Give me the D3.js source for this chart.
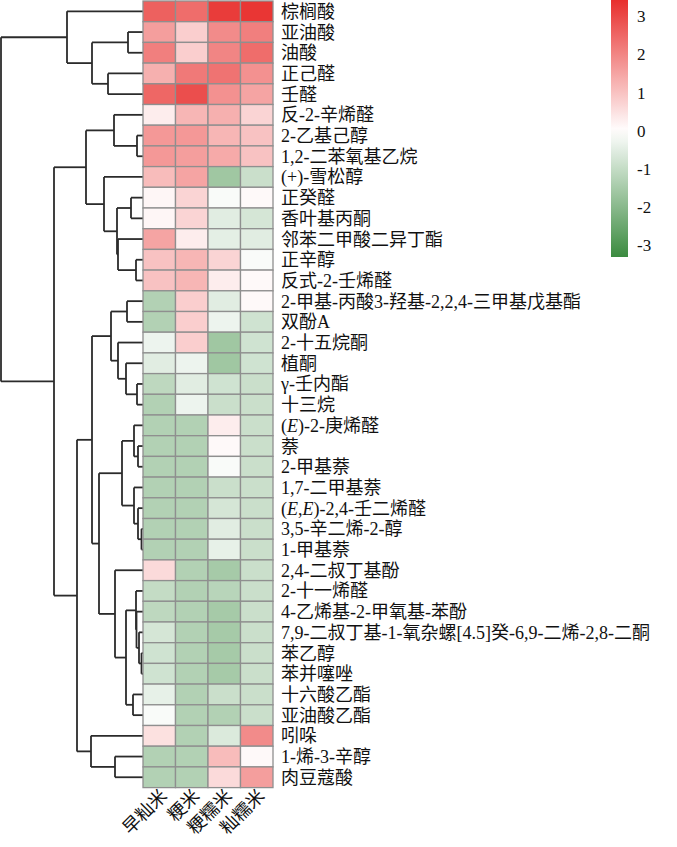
<!DOCTYPE html>
<html>
<head>
<meta charset="utf-8">
<script src="https://cdn.jsdelivr.net/npm/d3@7"></script>
<style>
  body { margin: 0; background: #fff; }
  svg text { font-family: "Liberation Serif", "Noto Sans CJK SC", serif; }
</style>
</head>
<body>
<svg id="chart" width="677" height="847"></svg>
<script>
// samples (columns)
var samples = ["早籼米", "粳米", "粳糯米", "籼糯米"];

// compounds (rows), top to bottom
var compounds = [
    "棕榈酸", "亚油酸", "油酸", "正己醛", "壬醛", "反-2-辛烯醛", "2-乙基己醇",
    "1,2-二苯氧基乙烷", "(+)-雪松醇", "正癸醛", "香叶基丙酮", "邻苯二甲酸二异丁酯",
    "正辛醇", "反式-2-壬烯醛", "2-甲基-丙酸3-羟基-2,2,4-三甲基戊基酯", "双酚A",
    "2-十五烷酮", "植酮", "γ-壬内酯", "十三烷", "(E)-2-庚烯醛", "萘", "2-甲基萘",
    "1,7-二甲基萘", "(E,E)-2,4-壬二烯醛", "3,5-辛二烯-2-醇", "1-甲基萘",
    "2,4-二叔丁基酚", "2-十一烯醛", "4-乙烯基-2-甲氧基-苯酚",
    "7,9-二叔丁基-1-氧杂螺[4.5]癸-6,9-二烯-2,8-二酮", "苯乙醇", "苯并噻唑",
    "十六酸乙酯", "亚油酸乙酯", "吲哚", "1-烯-3-辛醇", "肉豆蔻酸"
];

// z-scores, one row per compound, columns in sample order
var values = [
    [2.6, 2.4, 3.2, 3.3],
    [1.6, 0.8, 1.9, 2.1],
    [2.1, 0.8, 2.0, 2.4],
    [1.3, 2.2, 2.3, 1.8],
    [2.5, 2.9, 1.8, 1.5],
    [0.3, 1.2, 1.3, 0.7],
    [1.7, 1.7, 1.2, 1.0],
    [1.7, 1.6, 1.4, 1.0],
    [1.1, 1.5, -1.6, -0.9],
    [0.15, 0.7, -0.1, 0.1],
    [0.15, 0.7, -0.5, -0.7],
    [1.5, 0.3, -0.45, -0.5],
    [1.0, 1.2, 0.7, -0.1],
    [1.0, 1.2, 0.3, 0.1],
    [-1.3, 0.8, -0.5, 0.1],
    [-1.3, 0.8, -0.3, -0.8],
    [-0.3, 0.8, -1.6, -0.8],
    [-0.5, -0.3, -1.6, -0.8],
    [-1.1, -0.5, -0.8, -0.9],
    [-1.3, -0.3, -0.9, -0.9],
    [-1.3, -1.3, 0.3, -0.9],
    [-1.3, -1.3, 0.1, -0.9],
    [-1.3, -1.3, -0.1, -0.9],
    [-1.3, -1.3, -0.9, -0.9],
    [-1.3, -1.3, -0.7, -0.9],
    [-1.3, -1.3, -0.5, -0.9],
    [-1.3, -1.3, -0.4, -0.9],
    [0.6, -1.3, -1.5, -0.9],
    [-1.0, -1.3, -1.2, -0.9],
    [-1.1, -1.3, -1.5, -0.9],
    [-0.7, -1.3, -1.5, -0.9],
    [-0.8, -1.3, -1.5, -0.9],
    [-0.8, -1.3, -1.5, -0.9],
    [-0.4, -1.3, -0.9, -0.9],
    [-0.1, -1.3, -1.3, -0.9],
    [0.5, -1.3, -0.6, 1.9],
    [-1.3, -1.3, 1.1, 0.1],
    [-1.3, -1.3, 0.6, 1.6]
];

// legend ticks
var legendTicks = [3, 2, 1, 0, -1, -2, -3];

// row dendrogram: [height, left, right], leaves are row indices
var treeTop = [76, 0, [51, [15, 1, 2], [35, 3, 4]]];
var treeA = [57, [29, 5, [6, 6, 7]], [39, 8, [26, [12, 9, 10], [25, 11, [7, 12, 13]]]]];
var treeSub1 = [32, [16, 14, 15], [25, 16, [17, 17, [6, 18, 19]]]];
var treeG = [21, [9, 20, [5, 21, 22]], [9, 23, [5, 24, [1.5, 25, 26]]]];
var treeK = [17, [7, 28, [6.5, 29, [4, 30, [1.5, 31, 32]]]], [10, 33, 34]];
var treeLow = [66, [51, treeSub1, [44, treeG, [28, 27, treeK]]], [52, 35, [28, 36, 37]]];
var tree = [142, treeTop, [89, treeA, treeLow]];

var svg = d3.select("#chart");

var x = d3.scaleBand().domain(samples).range([143, 273]);
var y = d3.scaleBand().domain(d3.range(compounds.length)).range([1, 787.6]);
var color = d3.scaleLinear()
    .domain([-3.3, 0, 3.4])
    .range(["#3b8b40", "#ffffff", "#e8302e"]);

drawDendrogram();
drawHeatmap();
drawLabels();
drawLegend();

function drawDendrogram() {
    var root = d3.hierarchy(tree, function(d) { return Array.isArray(d) ? d.slice(1) : null; });
    var h = d3.scaleLinear().domain([0, 142]).range([143, 1]);

    root.eachAfter(function(n) {
        if (n.children) {
            n.px = h(n.data[0]);
            n.py = (n.children[0].py + n.children[1].py) / 2;
        } else {
            n.px = h(0);
            n.py = y(n.data) + y.bandwidth() / 2;
        }
    });

    var g = svg.append("g")
        .attr("fill", "none")
        .attr("stroke", "#2b2b2b")
        .attr("stroke-width", 1.8);

    root.each(function(n) {
        if (!n.children) return;
        g.append("line")
            .attr("x1", n.px).attr("x2", n.px)
            .attr("y1", n.children[0].py).attr("y2", n.children[1].py);
        n.children.forEach(function(c) {
            g.append("line")
                .attr("x1", n.px).attr("x2", c.px)
                .attr("y1", c.py).attr("y2", c.py);
        });
    });
}

function drawHeatmap() {
    var cells = [];
    values.forEach(function(row, i) {
        row.forEach(function(v, j) {
            cells.push({ row: i, col: samples[j], v: v });
        });
    });

    svg.append("g").selectAll("rect")
        .data(cells)
        .enter().append("rect")
        .attr("x", function(d) { return x(d.col); })
        .attr("y", function(d) { return y(d.row); })
        .attr("width", x.bandwidth())
        .attr("height", y.bandwidth())
        .attr("fill", function(d) { return color(d.v); })
        .attr("stroke", "#8f8f8f")
        .attr("stroke-width", 1.3);
}

function drawLabels() {
    var rows = svg.append("g").selectAll("text")
        .data(compounds)
        .enter().append("text")
        .attr("x", 281)
        .attr("y", function(d, i) { return y(i) + y.bandwidth() / 2; })
        .attr("dy", "0.36em")
        .attr("font-size", 18)
        .attr("fill", "#111");

    // italic E in stereo descriptors
    rows.each(function(d) {
        var t = d3.select(this);
        var parts = d.split(/(E)/);
        parts.forEach(function(p) {
            if (p === "") return;
            var span = t.append("tspan").text(p);
            if (p === "E") span.attr("font-style", "italic");
        });
    });

    svg.append("g").selectAll("text")
        .data(samples)
        .enter().append("text")
        .attr("transform", function(d) {
            return "translate(" + (x(d) + x.bandwidth() / 2 + 9) + ",797) rotate(-45)";
        })
        .attr("text-anchor", "end")
        .attr("font-size", 18)
        .attr("fill", "#111")
        .text(function(d) { return d; });
}

function drawLegend() {
    var ly = d3.scaleLinear().domain([3.42, -3.3]).range([0, 257]);
    var defs = svg.append("defs");
    var grad = defs.append("linearGradient")
        .attr("id", "legendGrad")
        .attr("x1", 0).attr("y1", 0).attr("x2", 0).attr("y2", 1);
    d3.range(0, 1.0001, 0.05).forEach(function(t) {
        grad.append("stop")
            .attr("offset", t)
            .attr("stop-color", color(ly.invert(t * 257)));
    });

    svg.append("rect")
        .attr("x", 611).attr("y", ly(3.42))
        .attr("width", 17).attr("height", ly(-3.3) - ly(3.42))
        .attr("fill", "url(#legendGrad)");

    svg.append("g").selectAll("text")
        .data(legendTicks)
        .enter().append("text")
        .attr("x", 637)
        .attr("y", function(d) { return ly(d); })
        .attr("dy", "0.35em")
        .attr("font-size", 17)
        .attr("fill", "#111")
        .text(function(d) { return d; });
}
</script>
</body>
</html>
